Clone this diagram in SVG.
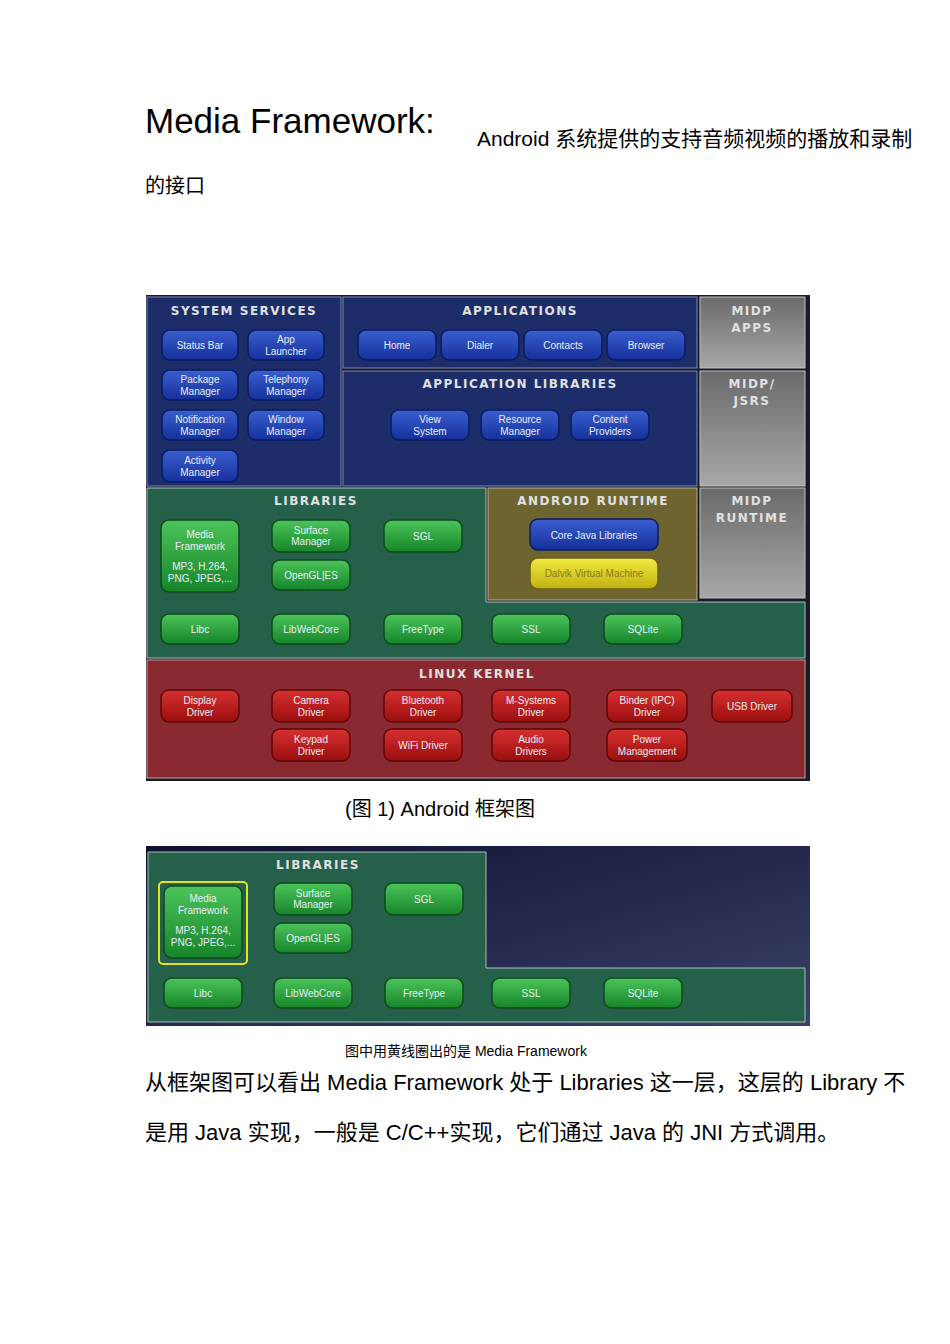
<svg xmlns="http://www.w3.org/2000/svg" width="950" height="1344" viewBox="0 0 950 1344">
<defs>
<linearGradient id="gb" x1="0" y1="0" x2="0" y2="1"><stop offset="0" stop-color="#3a5fd0"/><stop offset="1" stop-color="#14309a"/></linearGradient>
<linearGradient id="gg" x1="0" y1="0" x2="0" y2="1"><stop offset="0" stop-color="#4cc45a"/><stop offset="1" stop-color="#16852a"/></linearGradient>
<linearGradient id="gr" x1="0" y1="0" x2="0" y2="1"><stop offset="0" stop-color="#d83030"/><stop offset="1" stop-color="#9a0e0e"/></linearGradient>
<linearGradient id="gy" x1="0" y1="0" x2="0" y2="1"><stop offset="0" stop-color="#f4ea40"/><stop offset="1" stop-color="#c0b010"/></linearGradient>
<linearGradient id="gm" x1="0" y1="0" x2="0" y2="1"><stop offset="0" stop-color="#6a6a6a"/><stop offset="1" stop-color="#a8a8a8"/></linearGradient>
<linearGradient id="gn" x1="0" y1="0" x2="1" y2="1"><stop offset="0" stop-color="#0e1030"/><stop offset="1" stop-color="#3a4268"/></linearGradient>
</defs>
<style>
.pb{fill:#1d2d6a;stroke:#7a86b8;stroke-width:1}
.pg{fill:#25604a;stroke:#a8c0b8;stroke-width:1}
.pr{fill:#8a2a30;stroke:#c0a0a0;stroke-width:1}
.py{fill:#6e6430;stroke:#b8b090;stroke-width:1}
.pm{fill:url(#gm);stroke:#c0c0c0;stroke-width:1}
.b{fill:url(#gb);stroke:#0a1a60;stroke-width:1.5}
.g{fill:url(#gg);stroke:#0d4a1a;stroke-width:1.5}
.r{fill:url(#gr);stroke:#5a0808;stroke-width:1.5}
.y{fill:url(#gy);stroke:#6a6010;stroke-width:1.5}
.t{font-family:"Liberation Sans",Arial,sans-serif;font-size:10px;fill:#e8eef8;text-anchor:middle}
.h{font-family:"DejaVu Sans",sans-serif;font-size:12px;font-weight:bold;fill:#e0e0e0;text-anchor:middle;letter-spacing:1.5px}
.d{font-family:"Liberation Sans","Noto Sans CJK SC",sans-serif;fill:#000}
</style>
<rect width="950" height="1344" fill="#fff"/>
<text class="d" x="145" y="133" font-size="35">Media Framework:</text>
<text class="d" x="477" y="146" font-size="21">Android 系统提供的支持音频视频的播放和录制</text>
<text class="d" x="145" y="193" font-size="20">的接口</text>

<g id="diagram1">
<rect x="146" y="295" width="664" height="486" fill="#1a1a28"/>
<rect class="pb" x="147" y="297" width="194" height="189"/>
<rect class="pb" x="343" y="297" width="354" height="71"/>
<rect class="pb" x="343" y="371" width="354" height="115"/>
<rect class="pm" x="700" y="297" width="105" height="71"/>
<rect class="pm" x="700" y="371" width="105" height="115"/>
<rect class="pm" x="700" y="488" width="105" height="110"/>
<path class="pg" d="M147 488H486V602H805V658H147Z"/>
<rect class="py" x="488" y="488" width="209" height="112"/>
<rect class="pr" x="147" y="660" width="658" height="118"/>
<text class="h" x="244" y="315">SYSTEM SERVICES</text>
<text class="h" x="520" y="315">APPLICATIONS</text>
<text class="h" x="520" y="388">APPLICATION LIBRARIES</text>
<text class="h" x="752" y="315">MIDP</text><text class="h" x="752" y="332">APPS</text>
<text class="h" x="752" y="388">MIDP/</text><text class="h" x="752" y="405">JSRS</text>
<text class="h" x="752" y="505">MIDP</text><text class="h" x="752" y="522">RUNTIME</text>
<text class="h" x="316" y="505">LIBRARIES</text>
<text class="h" x="593" y="505">ANDROID RUNTIME</text>
<text class="h" x="477" y="678">LINUX KERNEL</text>

<g id="ss1"><rect class="b" x="162" y="330" width="76" height="30" rx="8"/><text class="t" x="200" y="349">Status Bar</text></g>
<g id="ss2"><rect class="b" x="248" y="330" width="76" height="30" rx="8"/><text class="t" x="286" y="343">App</text><text class="t" x="286" y="355">Launcher</text></g>
<g id="ss3"><rect class="b" x="162" y="370" width="76" height="30" rx="8"/><text class="t" x="200" y="383">Package</text><text class="t" x="200" y="395">Manager</text></g>
<g id="ss4"><rect class="b" x="248" y="370" width="76" height="30" rx="8"/><text class="t" x="286" y="383">Telephony</text><text class="t" x="286" y="395">Manager</text></g>
<g id="ss5"><rect class="b" x="162" y="410" width="76" height="30" rx="8"/><text class="t" x="200" y="423">Notification</text><text class="t" x="200" y="435">Manager</text></g>
<g id="ss6"><rect class="b" x="248" y="410" width="76" height="30" rx="8"/><text class="t" x="286" y="423">Window</text><text class="t" x="286" y="435">Manager</text></g>
<g id="ss7"><rect class="b" x="162" y="450" width="76" height="32" rx="8"/><text class="t" x="200" y="464">Activity</text><text class="t" x="200" y="476">Manager</text></g>

<g id="ap1"><rect class="b" x="358" y="330" width="78" height="30" rx="8"/><text class="t" x="397" y="349">Home</text></g>
<g id="ap2"><rect class="b" x="441" y="330" width="78" height="30" rx="8"/><text class="t" x="480" y="349">Dialer</text></g>
<g id="ap3"><rect class="b" x="524" y="330" width="78" height="30" rx="8"/><text class="t" x="563" y="349">Contacts</text></g>
<g id="ap4"><rect class="b" x="607" y="330" width="78" height="30" rx="8"/><text class="t" x="646" y="349">Browser</text></g>

<g id="al1"><rect class="b" x="391" y="410" width="78" height="30" rx="8"/><text class="t" x="430" y="423">View</text><text class="t" x="430" y="435">System</text></g>
<g id="al2"><rect class="b" x="481" y="410" width="78" height="30" rx="8"/><text class="t" x="520" y="423">Resource</text><text class="t" x="520" y="435">Manager</text></g>
<g id="al3"><rect class="b" x="571" y="410" width="78" height="30" rx="8"/><text class="t" x="610" y="423">Content</text><text class="t" x="610" y="435">Providers</text></g>

<g id="lb1"><rect class="g" x="161" y="520" width="78" height="72" rx="8"/><text class="t" x="200" y="538">Media</text><text class="t" x="200" y="550">Framework</text><text class="t" x="200" y="570">MP3, H.264,</text><text class="t" x="200" y="582">PNG, JPEG,...</text></g>
<g id="lb2"><rect class="g" x="272" y="520" width="78" height="32" rx="8"/><text class="t" x="311" y="534">Surface</text><text class="t" x="311" y="545">Manager</text></g>
<g id="lb3"><rect class="g" x="272" y="560" width="78" height="30" rx="8"/><text class="t" x="311" y="579">OpenGL|ES</text></g>
<g id="lb4"><rect class="g" x="384" y="520" width="78" height="32" rx="8"/><text class="t" x="423" y="540">SGL</text></g>
<g id="lb5"><rect class="g" x="161" y="614" width="78" height="30" rx="8"/><text class="t" x="200" y="633">Libc</text></g>
<g id="lb6"><rect class="g" x="272" y="614" width="78" height="30" rx="8"/><text class="t" x="311" y="633">LibWebCore</text></g>
<g id="lb7"><rect class="g" x="384" y="614" width="78" height="30" rx="8"/><text class="t" x="423" y="633">FreeType</text></g>
<g id="lb8"><rect class="g" x="492" y="614" width="78" height="30" rx="8"/><text class="t" x="531" y="633">SSL</text></g>
<g id="lb9"><rect class="g" x="604" y="614" width="78" height="30" rx="8"/><text class="t" x="643" y="633">SQLite</text></g>

<g id="rt1"><rect class="b" x="530" y="519" width="128" height="31" rx="8"/><text class="t" x="594" y="539">Core Java Libraries</text></g>
<g id="rt2"><rect class="y" x="530" y="558" width="128" height="31" rx="8"/><text class="t" x="594" y="577" fill="#7a7020" style="fill:#8a7a20">Dalvik Virtual Machine</text></g>

<g id="k1"><rect class="r" x="161" y="690" width="78" height="32" rx="8"/><text class="t" x="200" y="704">Display</text><text class="t" x="200" y="716">Driver</text></g>
<g id="k2"><rect class="r" x="272" y="690" width="78" height="32" rx="8"/><text class="t" x="311" y="704">Camera</text><text class="t" x="311" y="716">Driver</text></g>
<g id="k3"><rect class="r" x="384" y="690" width="78" height="32" rx="8"/><text class="t" x="423" y="704">Bluetooth</text><text class="t" x="423" y="716">Driver</text></g>
<g id="k4"><rect class="r" x="492" y="690" width="78" height="32" rx="8"/><text class="t" x="531" y="704">M-Systems</text><text class="t" x="531" y="716">Driver</text></g>
<g id="k5"><rect class="r" x="607" y="690" width="80" height="32" rx="8"/><text class="t" x="647" y="704">Binder (IPC)</text><text class="t" x="647" y="716">Driver</text></g>
<g id="k6"><rect class="r" x="712" y="690" width="80" height="32" rx="8"/><text class="t" x="752" y="710">USB Driver</text></g>
<g id="k7"><rect class="r" x="272" y="729" width="78" height="32" rx="8"/><text class="t" x="311" y="743">Keypad</text><text class="t" x="311" y="755">Driver</text></g>
<g id="k8"><rect class="r" x="384" y="729" width="78" height="32" rx="8"/><text class="t" x="423" y="749">WiFi Driver</text></g>
<g id="k9"><rect class="r" x="492" y="729" width="78" height="32" rx="8"/><text class="t" x="531" y="743">Audio</text><text class="t" x="531" y="755">Drivers</text></g>
<g id="k10"><rect class="r" x="607" y="729" width="80" height="32" rx="8"/><text class="t" x="647" y="743">Power</text><text class="t" x="647" y="755">Management</text></g>
</g>
<g id="connectors"/>
<text class="d" x="345" y="816" font-size="20">(图 1) Android 框架图</text>

<g id="diagram2">
<rect x="146" y="846" width="664" height="180" fill="url(#gn)"/>
<path class="pg" d="M148 852H486V968H805V1022H148Z"/>
<text class="h" x="318" y="869">LIBRARIES</text>
<g id="m1"><rect x="159" y="882" width="88" height="82" rx="4" fill="none" stroke="#e8e020" stroke-width="2"/><rect class="g" x="164" y="886" width="78" height="72" rx="8"/><text class="t" x="203" y="902">Media</text><text class="t" x="203" y="914">Framework</text><text class="t" x="203" y="934">MP3, H.264,</text><text class="t" x="203" y="946">PNG, JPEG,...</text></g>
<g id="m2"><rect class="g" x="274" y="883" width="78" height="32" rx="8"/><text class="t" x="313" y="897">Surface</text><text class="t" x="313" y="908">Manager</text></g>
<g id="m3"><rect class="g" x="274" y="923" width="78" height="30" rx="8"/><text class="t" x="313" y="942">OpenGL|ES</text></g>
<g id="m4"><rect class="g" x="385" y="883" width="78" height="32" rx="8"/><text class="t" x="424" y="903">SGL</text></g>
<g id="m5"><rect class="g" x="164" y="978" width="78" height="30" rx="8"/><text class="t" x="203" y="997">Libc</text></g>
<g id="m6"><rect class="g" x="274" y="978" width="78" height="30" rx="8"/><text class="t" x="313" y="997">LibWebCore</text></g>
<g id="m7"><rect class="g" x="385" y="978" width="78" height="30" rx="8"/><text class="t" x="424" y="997">FreeType</text></g>
<g id="m8"><rect class="g" x="492" y="978" width="78" height="30" rx="8"/><text class="t" x="531" y="997">SSL</text></g>
<g id="m9"><rect class="g" x="604" y="978" width="78" height="30" rx="8"/><text class="t" x="643" y="997">SQLite</text></g>
</g>
<text class="d" x="345" y="1056" font-size="14">图中用黄线圈出的是 Media Framework</text>
<text class="d" x="145" y="1090" font-size="22">从框架图可以看出 Media Framework 处于 Libraries 这一层，这层的 Library 不</text>
<text class="d" x="145" y="1140" font-size="22">是用 Java 实现，一般是 C/C++实现，它们通过 Java 的 JNI 方式调用。</text>
</svg>
